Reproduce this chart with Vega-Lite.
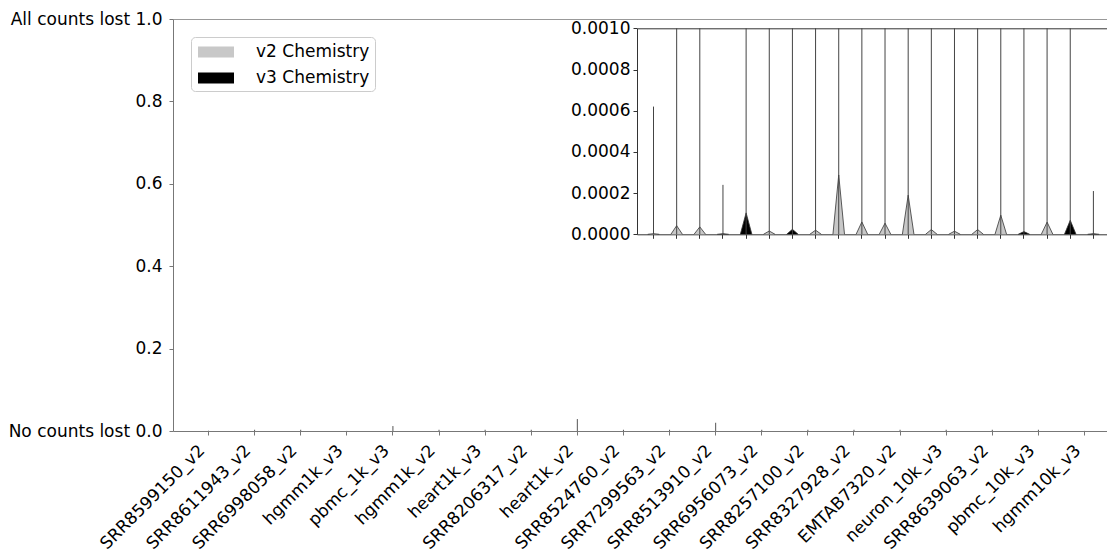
{
  "$schema": "https://vega.github.io/schema/vega-lite/v6.json",
  "width": 934,
  "height": 412,
  "autosize": {"type": "none"},
  "padding": {"left": 173, "top": 19, "right": 0, "bottom": 123},
  "background": "white",
  "config": {
    "view": {"stroke": null},
    "font": "DejaVu Sans",
    "axis": {
      "labelFont": "DejaVu Sans",
      "labelFontSize": 17,
      "labelColor": "black",
      "grid": false,
      "title": null,
      "domainColor": "#666",
      "tickColor": "#666",
      "tickSize": 4,
      "labelPadding": 4
    }
  },
  "datasets": {
    "stats": [
      {"sample": "SRR8599150_v2", "chem": "v2 Chemistry", "min": 0, "max": 0.00062},
      {"sample": "SRR8611943_v2", "chem": "v2 Chemistry", "min": 0, "max": 0.003},
      {"sample": "SRR6998058_v2", "chem": "v2 Chemistry", "min": 0, "max": 0.003},
      {"sample": "hgmm1k_v3", "chem": "v3 Chemistry", "min": 0, "max": 0.00024},
      {"sample": "pbmc_1k_v3", "chem": "v3 Chemistry", "min": 0, "max": 0.012},
      {"sample": "hgmm1k_v2", "chem": "v2 Chemistry", "min": 0, "max": 0.003},
      {"sample": "heart1k_v3", "chem": "v3 Chemistry", "min": 0, "max": 0.003},
      {"sample": "SRR8206317_v2", "chem": "v2 Chemistry", "min": 0, "max": 0.003},
      {"sample": "heart1k_v2", "chem": "v2 Chemistry", "min": 0, "max": 0.029},
      {"sample": "SRR8524760_v2", "chem": "v2 Chemistry", "min": 0, "max": 0.003},
      {"sample": "SRR7299563_v2", "chem": "v2 Chemistry", "min": 0, "max": 0.003},
      {"sample": "SRR8513910_v2", "chem": "v2 Chemistry", "min": 0, "max": 0.02},
      {"sample": "SRR6956073_v2", "chem": "v2 Chemistry", "min": 0, "max": 0.003},
      {"sample": "SRR8257100_v2", "chem": "v2 Chemistry", "min": 0, "max": 0.003},
      {"sample": "SRR8327928_v2", "chem": "v2 Chemistry", "min": 0, "max": 0.003},
      {"sample": "EMTAB7320_v2", "chem": "v2 Chemistry", "min": 0, "max": 0.003},
      {"sample": "neuron_10k_v3", "chem": "v3 Chemistry", "min": 0, "max": 0.003},
      {"sample": "SRR8639063_v2", "chem": "v2 Chemistry", "min": 0, "max": 0.003},
      {"sample": "pbmc_10k_v3", "chem": "v3 Chemistry", "min": 0, "max": 0.003},
      {"sample": "hgmm10k_v3", "chem": "v3 Chemistry", "min": 0, "max": 0.00021}
    ],
    "shapes": [
      {"sample": "SRR8599150_v2", "chem": "v2 Chemistry", "i": 0, "pos": 0.75, "y": 0},
      {"sample": "SRR8599150_v2", "chem": "v2 Chemistry", "i": 1, "pos": 1, "y": 0.000003},
      {"sample": "SRR8599150_v2", "chem": "v2 Chemistry", "i": 2, "pos": 1.25, "y": 0},
      {"sample": "SRR8611943_v2", "chem": "v2 Chemistry", "i": 0, "pos": 1.75, "y": 0},
      {"sample": "SRR8611943_v2", "chem": "v2 Chemistry", "i": 1, "pos": 2, "y": 0.000042},
      {"sample": "SRR8611943_v2", "chem": "v2 Chemistry", "i": 2, "pos": 2.25, "y": 0},
      {"sample": "SRR6998058_v2", "chem": "v2 Chemistry", "i": 0, "pos": 2.75, "y": 0},
      {"sample": "SRR6998058_v2", "chem": "v2 Chemistry", "i": 1, "pos": 3, "y": 0.000036},
      {"sample": "SRR6998058_v2", "chem": "v2 Chemistry", "i": 2, "pos": 3.25, "y": 0},
      {"sample": "hgmm1k_v3", "chem": "v3 Chemistry", "i": 0, "pos": 3.75, "y": 0},
      {"sample": "hgmm1k_v3", "chem": "v3 Chemistry", "i": 1, "pos": 4, "y": 0.000003},
      {"sample": "hgmm1k_v3", "chem": "v3 Chemistry", "i": 2, "pos": 4.25, "y": 0},
      {"sample": "pbmc_1k_v3", "chem": "v3 Chemistry", "i": 0, "pos": 4.75, "y": 0},
      {"sample": "pbmc_1k_v3", "chem": "v3 Chemistry", "i": 1, "pos": 5, "y": 0.000104},
      {"sample": "pbmc_1k_v3", "chem": "v3 Chemistry", "i": 2, "pos": 5.25, "y": 0},
      {"sample": "hgmm1k_v2", "chem": "v2 Chemistry", "i": 0, "pos": 5.75, "y": 0},
      {"sample": "hgmm1k_v2", "chem": "v2 Chemistry", "i": 1, "pos": 6, "y": 0.000016},
      {"sample": "hgmm1k_v2", "chem": "v2 Chemistry", "i": 2, "pos": 6.25, "y": 0},
      {"sample": "heart1k_v3", "chem": "v3 Chemistry", "i": 0, "pos": 6.75, "y": 0},
      {"sample": "heart1k_v3", "chem": "v3 Chemistry", "i": 1, "pos": 7, "y": 0.000024},
      {"sample": "heart1k_v3", "chem": "v3 Chemistry", "i": 2, "pos": 7.25, "y": 0},
      {"sample": "SRR8206317_v2", "chem": "v2 Chemistry", "i": 0, "pos": 7.75, "y": 0},
      {"sample": "SRR8206317_v2", "chem": "v2 Chemistry", "i": 1, "pos": 8, "y": 0.00002},
      {"sample": "SRR8206317_v2", "chem": "v2 Chemistry", "i": 2, "pos": 8.25, "y": 0},
      {"sample": "heart1k_v2", "chem": "v2 Chemistry", "i": 0, "pos": 8.75, "y": 0},
      {"sample": "heart1k_v2", "chem": "v2 Chemistry", "i": 1, "pos": 9, "y": 0.000288},
      {"sample": "heart1k_v2", "chem": "v2 Chemistry", "i": 2, "pos": 9.25, "y": 0},
      {"sample": "SRR8524760_v2", "chem": "v2 Chemistry", "i": 0, "pos": 9.75, "y": 0},
      {"sample": "SRR8524760_v2", "chem": "v2 Chemistry", "i": 1, "pos": 10, "y": 0.00006},
      {"sample": "SRR8524760_v2", "chem": "v2 Chemistry", "i": 2, "pos": 10.25, "y": 0},
      {"sample": "SRR7299563_v2", "chem": "v2 Chemistry", "i": 0, "pos": 10.75, "y": 0},
      {"sample": "SRR7299563_v2", "chem": "v2 Chemistry", "i": 1, "pos": 11, "y": 0.000054},
      {"sample": "SRR7299563_v2", "chem": "v2 Chemistry", "i": 2, "pos": 11.25, "y": 0},
      {"sample": "SRR8513910_v2", "chem": "v2 Chemistry", "i": 0, "pos": 11.75, "y": 0},
      {"sample": "SRR8513910_v2", "chem": "v2 Chemistry", "i": 1, "pos": 12, "y": 0.00019},
      {"sample": "SRR8513910_v2", "chem": "v2 Chemistry", "i": 2, "pos": 12.25, "y": 0},
      {"sample": "SRR6956073_v2", "chem": "v2 Chemistry", "i": 0, "pos": 12.75, "y": 0},
      {"sample": "SRR6956073_v2", "chem": "v2 Chemistry", "i": 1, "pos": 13, "y": 0.000023},
      {"sample": "SRR6956073_v2", "chem": "v2 Chemistry", "i": 2, "pos": 13.25, "y": 0},
      {"sample": "SRR8257100_v2", "chem": "v2 Chemistry", "i": 0, "pos": 13.75, "y": 0},
      {"sample": "SRR8257100_v2", "chem": "v2 Chemistry", "i": 1, "pos": 14, "y": 0.000015},
      {"sample": "SRR8257100_v2", "chem": "v2 Chemistry", "i": 2, "pos": 14.25, "y": 0},
      {"sample": "SRR8327928_v2", "chem": "v2 Chemistry", "i": 0, "pos": 14.75, "y": 0},
      {"sample": "SRR8327928_v2", "chem": "v2 Chemistry", "i": 1, "pos": 15, "y": 0.000023},
      {"sample": "SRR8327928_v2", "chem": "v2 Chemistry", "i": 2, "pos": 15.25, "y": 0},
      {"sample": "EMTAB7320_v2", "chem": "v2 Chemistry", "i": 0, "pos": 15.75, "y": 0},
      {"sample": "EMTAB7320_v2", "chem": "v2 Chemistry", "i": 1, "pos": 16, "y": 0.000093},
      {"sample": "EMTAB7320_v2", "chem": "v2 Chemistry", "i": 2, "pos": 16.25, "y": 0},
      {"sample": "neuron_10k_v3", "chem": "v3 Chemistry", "i": 0, "pos": 16.75, "y": 0},
      {"sample": "neuron_10k_v3", "chem": "v3 Chemistry", "i": 1, "pos": 17, "y": 0.000013},
      {"sample": "neuron_10k_v3", "chem": "v3 Chemistry", "i": 2, "pos": 17.25, "y": 0},
      {"sample": "SRR8639063_v2", "chem": "v2 Chemistry", "i": 0, "pos": 17.75, "y": 0},
      {"sample": "SRR8639063_v2", "chem": "v2 Chemistry", "i": 1, "pos": 18, "y": 0.000059},
      {"sample": "SRR8639063_v2", "chem": "v2 Chemistry", "i": 2, "pos": 18.25, "y": 0},
      {"sample": "pbmc_10k_v3", "chem": "v3 Chemistry", "i": 0, "pos": 18.75, "y": 0},
      {"sample": "pbmc_10k_v3", "chem": "v3 Chemistry", "i": 1, "pos": 19, "y": 0.000068},
      {"sample": "pbmc_10k_v3", "chem": "v3 Chemistry", "i": 2, "pos": 19.25, "y": 0},
      {"sample": "hgmm10k_v3", "chem": "v3 Chemistry", "i": 0, "pos": 19.75, "y": 0},
      {"sample": "hgmm10k_v3", "chem": "v3 Chemistry", "i": 1, "pos": 20, "y": 0.000003},
      {"sample": "hgmm10k_v3", "chem": "v3 Chemistry", "i": 2, "pos": 20.25, "y": 0}
    ]
  },
  "layer": [
    {
      "data": {"name": "stats"},
      "layer": [
        {
          "mark": {"type": "rule", "color": "#555", "strokeWidth": 1},
          "encoding": {
            "x": {
              "field": "sample", "type": "nominal",
              "scale": {
                "type": "band",
                "domain": ["SRR8599150_v2","SRR8611943_v2","SRR6998058_v2","hgmm1k_v3","pbmc_1k_v3","hgmm1k_v2","heart1k_v3","SRR8206317_v2","heart1k_v2","SRR8524760_v2","SRR7299563_v2","SRR8513910_v2","SRR6956073_v2","SRR8257100_v2","SRR8327928_v2","EMTAB7320_v2","neuron_10k_v3","SRR8639063_v2","pbmc_10k_v3","hgmm10k_v3"],
                "range": [0, 947],
                "paddingInner": 0,
                "paddingOuter": 0.27
              },
              "axis": {"orient": "bottom", "labelAngle": -45, "labelAlign": "right", "labelBaseline": "bottom", "labelPadding": 19, "labelOverlap": false, "domainColor": "#777", "tickColor": "#777"}
            },
            "y": {
              "field": "min", "type": "quantitative",
              "scale": {"domain": [0, 1], "nice": false, "zero": true},
              "axis": {
                "orient": "left",
                "values": [0, 0.2, 0.4, 0.6, 0.8, 1],
                "labelExpr": "datum.value == 1 ? 'All counts lost 1.0' : datum.value == 0 ? 'No counts lost 0.0' : format(datum.value, '.1f')",
                "labelPadding": 7,
                "domainColor": "#777", "tickColor": "#777"
              }
            },
            "y2": {"field": "max"}
          }
        },
        {
          "mark": {"type": "rule", "opacity": 0},
          "encoding": {
            "x": {
              "field": "sample", "type": "nominal",
              "axis": {"orient": "top", "labels": false, "ticks": false, "domain": true, "domainColor": "#999"}
            }
          }
        }
      ]
    },
    {
      "layer": [
        {
          "data": {"name": "shapes"},
          "mark": {"type": "line", "stroke": "#333", "strokeWidth": 0.8, "opacity": 1},
          "encoding": {
            "x": {
              "field": "pos", "type": "quantitative",
              "scale": {"domain": [0.287, 20.713], "range": [464, 936.9], "nice": false, "zero": false},
              "axis": null
            },
            "y": {
              "field": "y", "type": "quantitative",
              "scale": {"domain": [0, 0.001], "range": [215.3, 9.3], "nice": false, "zero": true, "clamp": true},
              "axis": {"orient": "left", "offset": -464, "values": [0, 0.0002, 0.0004, 0.0006, 0.0008, 0.001], "format": ".4f", "labelPadding": 3, "domainColor": "#333", "tickColor": "#333"}
            },
            "fill": {
              "field": "chem", "type": "nominal",
              "scale": {"domain": ["v2 Chemistry", "v3 Chemistry"], "range": ["#c8c8c8", "#000000"]},
              "legend": {
                "orient": "none", "legendX": 18, "legendY": 18, "title": null,
                "symbolType": "M-1.8,-0.55H1.8V0.55H-1.8Z", "symbolSize": 400,
                "symbolOffset": 10, "symbolStrokeWidth": 0, "symbolOpacity": 1,
                "labelFontSize": 17, "labelFont": "DejaVu Sans", "labelColor": "black",
                "labelOffset": 30, "rowPadding": 8,
                "fillColor": "white", "strokeColor": "#ccc", "cornerRadius": 4, "padding": 5
              }
            },
            "detail": {"field": "sample"},
            "order": {"field": "i"}
          }
        },
        {
          "data": {"name": "stats"},
          "mark": {"type": "rule", "color": "#444", "strokeWidth": 1},
          "encoding": {
            "x": {
              "field": "sample", "type": "nominal",
              "scale": {
                "type": "band",
                "domain": ["SRR8599150_v2","SRR8611943_v2","SRR6998058_v2","hgmm1k_v3","pbmc_1k_v3","hgmm1k_v2","heart1k_v3","SRR8206317_v2","heart1k_v2","SRR8524760_v2","SRR7299563_v2","SRR8513910_v2","SRR6956073_v2","SRR8257100_v2","SRR8327928_v2","EMTAB7320_v2","neuron_10k_v3","SRR8639063_v2","pbmc_10k_v3","hgmm10k_v3"],
                "range": [464, 936.9],
                "paddingInner": 0,
                "paddingOuter": 0.213
              },
              "axis": {"orient": "bottom", "offset": -196.7, "labels": false, "domainColor": "#333", "tickColor": "#333"}
            },
            "y": {"field": "min", "type": "quantitative"},
            "y2": {"field": "max"}
          }
        },
        {
          "data": {"name": "stats"},
          "mark": {"type": "rule", "opacity": 0},
          "encoding": {
            "x": {
              "field": "sample", "type": "nominal",
              "scale": {
                "type": "band",
                "domain": ["SRR8599150_v2","SRR8611943_v2","SRR6998058_v2","hgmm1k_v3","pbmc_1k_v3","hgmm1k_v2","heart1k_v3","SRR8206317_v2","heart1k_v2","SRR8524760_v2","SRR7299563_v2","SRR8513910_v2","SRR6956073_v2","SRR8257100_v2","SRR8327928_v2","EMTAB7320_v2","neuron_10k_v3","SRR8639063_v2","pbmc_10k_v3","hgmm10k_v3"],
                "range": [464, 936.9],
                "paddingInner": 0,
                "paddingOuter": 0.213
              },
              "axis": {"orient": "top", "offset": -9.3, "labels": false, "ticks": false, "domain": true, "domainColor": "#333"}
            }
          }
        }
      ],
      "resolve": {"scale": {"x": "independent"}, "axis": {"x": "independent"}}
    }
  ],
  "resolve": {"scale": {"x": "independent", "y": "independent"}}
}
